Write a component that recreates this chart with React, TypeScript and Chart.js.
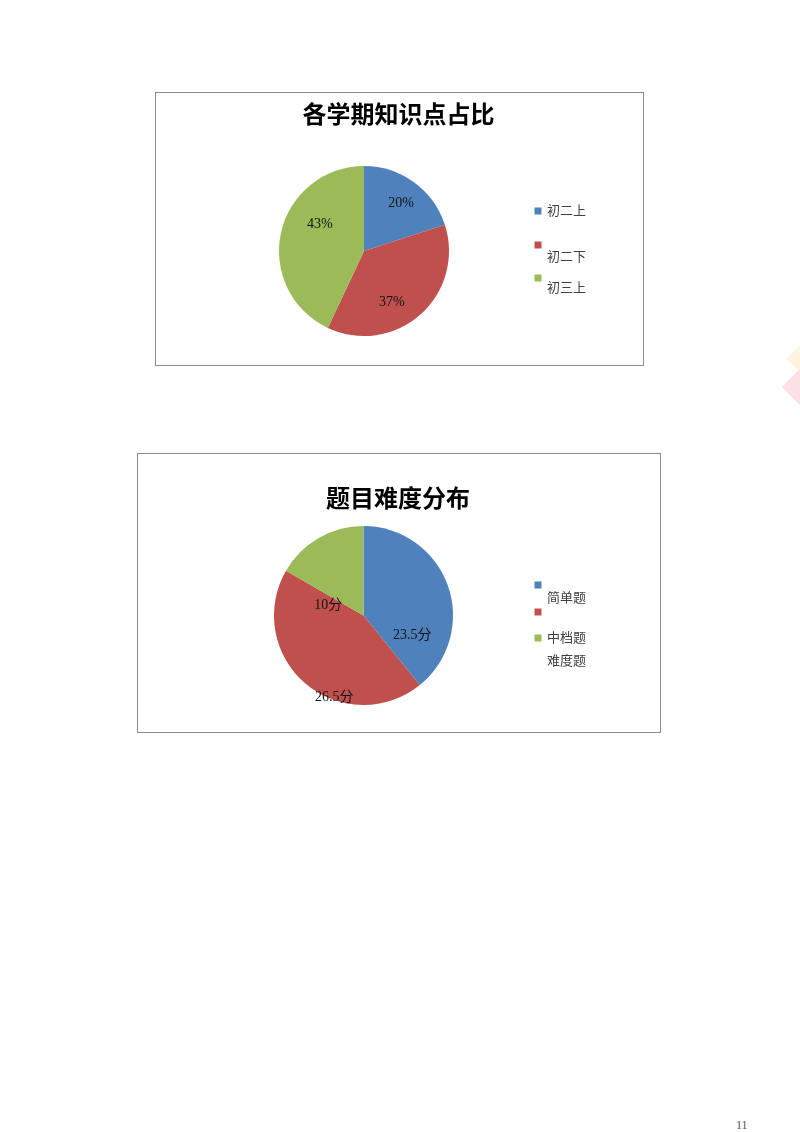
import { useEffect, useRef } from "react";
import { Chart, ChartConfiguration, Plugin, registerables } from "chart.js";

Chart.register(...registerables);

// 各学期知识点占比
const termLabels = ["初二上", "初二下", "初三上"];
const termShares = [20, 37, 43];

// 题目难度分布
const levelLabels = ["简单题", "中档题", "难度题"];
const levelScores = [23.5, 26.5, 10];

const sliceColors = ["#4F81BD", "#C0504D", "#9BBB59"];

interface PieSpec {
  title: string;
  titleY: number;
  labels: string[];
  values: number[];
  format: (v: number) => string;
  padding: { left: number; right: number; top: number; bottom: number };
  labelShift: number[]; // degrees off the slice middle, like Excel's "best fit"
  labelRadius: number[]; // fraction of the radius
  legendX: number;
  markerY: number[];
  textY: number[];
}

function makeOverlay(spec: PieSpec): Plugin<"pie"> {
  return {
    id: "overlay",
    afterDraw(chart) {
      const ctx = chart.ctx;
      ctx.save();

      // title
      ctx.fillStyle = "#000";
      ctx.textAlign = "center";
      ctx.textBaseline = "middle";
      ctx.font = "bold 24px 'Noto Sans CJK SC', sans-serif";
      ctx.fillText(spec.title, chart.width / 2 - 1, spec.titleY);

      // value labels
      ctx.font = "14px 'Liberation Serif', 'Noto Sans CJK SC', serif";
      ctx.fillStyle = "#111";
      const meta = chart.getDatasetMeta(0);
      meta.data.forEach((el, i) => {
        const p = el.getProps(["x", "y", "startAngle", "endAngle", "outerRadius"], true) as any;
        const a = (p.startAngle + p.endAngle) / 2 + (spec.labelShift[i] * Math.PI) / 180;
        const r = p.outerRadius * spec.labelRadius[i];
        ctx.fillText(spec.format(spec.values[i]), p.x + Math.cos(a) * r, p.y + Math.sin(a) * r);
      });

      // legend
      ctx.textAlign = "left";
      ctx.font = "13px 'Noto Sans CJK SC', sans-serif";
      spec.labels.forEach((label, i) => {
        ctx.fillStyle = sliceColors[i];
        ctx.fillRect(spec.legendX - 3.5, spec.markerY[i] - 3.5, 7, 7);
        ctx.fillStyle = "#404040";
        ctx.fillText(label, spec.legendX + 9, spec.textY[i]);
      });

      ctx.restore();
    },
  };
}

function PieBox({ spec, style }: { spec: PieSpec; style: React.CSSProperties }) {
  const canvasRef = useRef<HTMLCanvasElement>(null);
  const chartRef = useRef<Chart | null>(null);

  useEffect(() => {
    if (!canvasRef.current) return;
    if (chartRef.current) chartRef.current.destroy();

    const config: ChartConfiguration<"pie"> = {
      type: "pie",
      data: {
        labels: spec.labels,
        datasets: [
          {
            data: spec.values,
            backgroundColor: sliceColors,
            borderWidth: 0,
            hoverOffset: 0,
            offset: 0,
          },
        ],
      },
      options: {
        animation: false,
        responsive: true,
        maintainAspectRatio: false,
        devicePixelRatio: 1,
        layout: { padding: spec.padding },
        events: [],
        plugins: {
          legend: { display: false },
          title: { display: false },
          tooltip: { enabled: false },
        },
      },
      plugins: [makeOverlay(spec)],
    };

    chartRef.current = new Chart(canvasRef.current, config);
    return () => {
      chartRef.current?.destroy();
      chartRef.current = null;
    };
  }, [spec]);

  return (
    <div style={{ position: "absolute", border: "1px solid #8a8a8a", background: "#fff", ...style }}>
      <canvas ref={canvasRef} />
    </div>
  );
}

const termSpec: PieSpec = {
  title: "各学期知识点占比",
  titleY: 21,
  labels: termLabels,
  values: termShares,
  format: (v) => `${v}%`,
  padding: { left: 123, right: 194, top: 73, bottom: 29 },
  labelShift: [2, 13, 19],
  labelRadius: [0.71, 0.69, 0.61],
  legendX: 382,
  markerY: [118, 152, 185],
  textY: [117, 163, 194],
};

const levelSpec: PieSpec = {
  title: "题目难度分布",
  titleY: 44,
  labels: levelLabels,
  values: levelScores,
  format: (v) => `${v}分`,
  padding: { left: 136, right: 207, top: 72, bottom: 27 },
  labelShift: [42, -21, -44],
  labelRadius: [0.59, 0.975, 0.41],
  legendX: 400,
  markerY: [131, 158, 184],
  textY: [143, 183, 206],
};

export default function App() {
  return (
    <div
      style={{
        position: "absolute",
        left: 0,
        top: 0,
        width: 800,
        height: 1132,
        overflow: "hidden",
        background: "#fff",
      }}
    >
      <PieBox spec={termSpec} style={{ left: 155, top: 92, width: 487, height: 272 }} />
      <PieBox spec={levelSpec} style={{ left: 137, top: 453, width: 522, height: 278 }} />

      {/* page decoration on the right edge */}
      <div
        style={{
          position: "absolute",
          left: 791,
          top: 348,
          width: 22,
          height: 22,
          background: "#FEF3DF",
          transform: "rotate(45deg)",
        }}
      />
      <div
        style={{
          position: "absolute",
          left: 788,
          top: 372,
          width: 30,
          height: 30,
          background: "#FCE1E4",
          transform: "rotate(45deg)",
        }}
      />

      <div
        style={{
          position: "absolute",
          left: 736,
          top: 1118,
          fontFamily: "'Liberation Serif', serif",
          fontSize: 12,
          color: "#555",
        }}
      >
        11
      </div>
    </div>
  );
}
